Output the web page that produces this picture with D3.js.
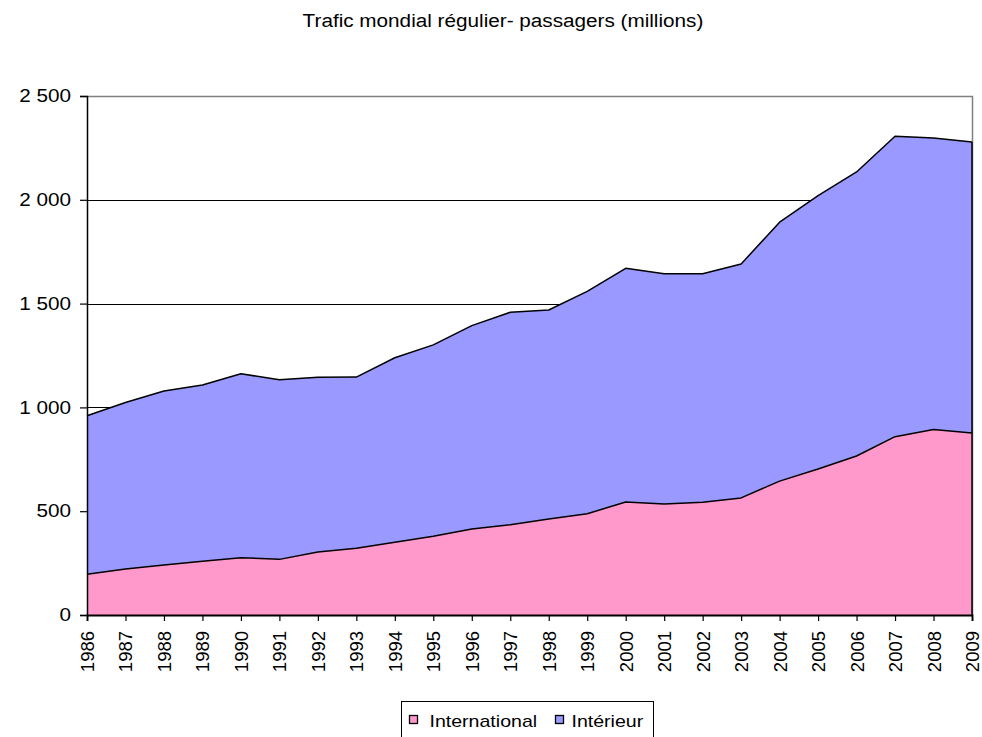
<!DOCTYPE html>
<html>
<head>
  <meta charset='utf-8'>
  <title>Trafic mondial régulier- passagers</title>
  <script src="https://cdn.jsdelivr.net/npm/d3@7"></script>
  <style>
    body { margin: 0; background: #fff; }
    text { font-family: "Liberation Sans", Arial, sans-serif; fill: #000; }
  </style>
</head>
<body>
  <svg width="982" height="737" id="chart"></svg>
  <script>
    // data (millions of passengers)
    const years = [1986, 1987, 1988, 1989, 1990, 1991, 1992, 1993, 1994, 1995, 1996, 1997,
                   1998, 1999, 2000, 2001, 2002, 2003, 2004, 2005, 2006, 2007, 2008, 2009];
    const international = [196, 222, 241, 259, 276, 268, 303, 321, 350, 379, 414, 435,
                           462, 488, 544, 535, 543, 564, 645, 703, 766, 859, 894, 877];
    const interieur = [764, 802, 838, 849, 886, 865, 842, 825, 889, 922, 980, 1023,
                       1007, 1071, 1126, 1109, 1101, 1127, 1247, 1317, 1368, 1447, 1404, 1401];
    const seriesNames = ["International", "Intérieur"];
    const seriesColors = ["#ff99cc", "#9999ff"];
    const yTicks = [0, 500, 1000, 1500, 2000, 2500];

    const svg = d3.select('#chart');
    const plotLeft = 87, plotRight = 972, plotTop = 96, plotBottom = 615;
    const fontFam = '"Liberation Sans", Arial, sans-serif';
    const widen = 1.15; // the original text is drawn a bit wide

    // stretch text horizontally, keeping its anchor
    function stretch(sel, k) {
      sel.each(function () {
        const len = this.getComputedTextLength();
        d3.select(this).attr('textLength', len * k).attr('lengthAdjust', 'spacingAndGlyphs');
      });
    }

    const x = d3.scaleLinear().domain([years[0], years[years.length - 1]]).range([plotLeft, plotRight]);
    const y = d3.scaleLinear().domain([0, 2500]).range([plotBottom, plotTop]);

    const rows = years.map((yr, i) => ({ year: yr, International: international[i], "Intérieur": interieur[i] }));
    const stacked = d3.stack().keys(seriesNames)(rows);

    // title
    svg.append('text')
      .attr('x', 503).attr('y', 27)
      .attr('text-anchor', 'middle')
      .style('font-size', '18px')
      .text('Trafic mondial régulier- passagers (millions)')
      .call(stretch, widen);

    // gridlines
    svg.append('g')
      .selectAll('line')
      .data(yTicks.filter(d => d > 0 && d < 2500))
      .join('line')
      .attr('x1', plotLeft).attr('x2', plotRight)
      .attr('y1', d => Math.round(y(d)) + 0.5).attr('y2', d => Math.round(y(d)) + 0.5)
      .attr('stroke', '#000').attr('stroke-width', 1);

    // plot area border (top + right)
    svg.append('path')
      .attr('d', `M${plotLeft},${plotTop + 0.5}H${plotRight + 0.5}V${plotBottom}`)
      .attr('fill', 'none').attr('stroke', '#808080').attr('stroke-width', 1.5);

    const area = d3.area()
      .x(d => x(d.data.year))
      .y0(d => y(d[0]))
      .y1(d => y(d[1]));
    const topLine = d3.line()
      .x(d => x(d.data.year))
      .y(d => y(d[1]));

    svg.append('g')
      .selectAll('path')
      .data(stacked)
      .join('path')
      .attr('d', area)
      .attr('fill', (d, i) => seriesColors[i]);

    svg.append('g')
      .selectAll('path')
      .data(stacked)
      .join('path')
      .attr('d', topLine)
      .attr('fill', 'none')
      .attr('stroke', '#000')
      .attr('stroke-width', 1.5)
      .attr('stroke-linejoin', 'round');

    // right edge of the area
    svg.append('line')
      .attr('x1', plotRight).attr('x2', plotRight)
      .attr('y1', y(0)).attr('y2', y(international[international.length - 1] + interieur[interieur.length - 1]))
      .attr('stroke', '#000').attr('stroke-width', 1.5);

    // y axis
    const yAxis = svg.append('g')
      .attr('transform', `translate(${plotLeft},0)`)
      .call(d3.axisLeft(y).tickValues(yTicks).tickSize(7).tickPadding(9)
        .tickFormat(d => d3.format(',')(d).replace(',', ' ')));
    yAxis.select('.domain').attr('stroke-width', 1.5);
    yAxis.selectAll('.tick line').attr('stroke-width', 1.2);
    yAxis.selectAll('text')
      .style('font-size', '18px')
      .style('font-family', fontFam)
      .call(stretch, widen);

    // x axis
    const xAxis = svg.append('g')
      .attr('transform', `translate(0,${plotBottom})`)
      .call(d3.axisBottom(x).tickValues(years).tickSize(6).tickFormat(d3.format('d')));
    xAxis.select('.domain').attr('stroke-width', 1.8);
    xAxis.selectAll('.tick line').attr('stroke-width', 1.2);
    xAxis.selectAll('text')
      .style('font-size', '18.5px')
      .style('font-family', fontFam)
      .attr('text-anchor', 'end')
      .attr('dy', '0.35em')
      .attr('transform', 'translate(0,16) rotate(-90)')
      .attr('x', 0).attr('y', 0);

    // legend
    const legend = svg.append('g').attr('transform', 'translate(401.5,701.5)');
    legend.append('rect')
      .attr('width', 252).attr('height', 45)
      .attr('fill', '#fff').attr('stroke', '#000').attr('stroke-width', 1);
    const legendX = [8, 154];
    const legendTextX = [28, 170];
    const items = legend.selectAll('g.item')
      .data(seriesNames)
      .join('g')
      .attr('class', 'item')
      .attr('transform', (d, i) => `translate(${legendX[i]},14)`);
    items.append('rect')
      .attr('width', 8).attr('height', 8)
      .attr('fill', (d, i) => seriesColors[i])
      .attr('stroke', '#000').attr('stroke-width', 1.3);
    items.append('text')
      .attr('x', (d, i) => legendTextX[i] - legendX[i]).attr('y', 11)
      .style('font-size', '17px')
      .text(d => d)
      .call(stretch, widen);
  </script>
</body>
</html>
